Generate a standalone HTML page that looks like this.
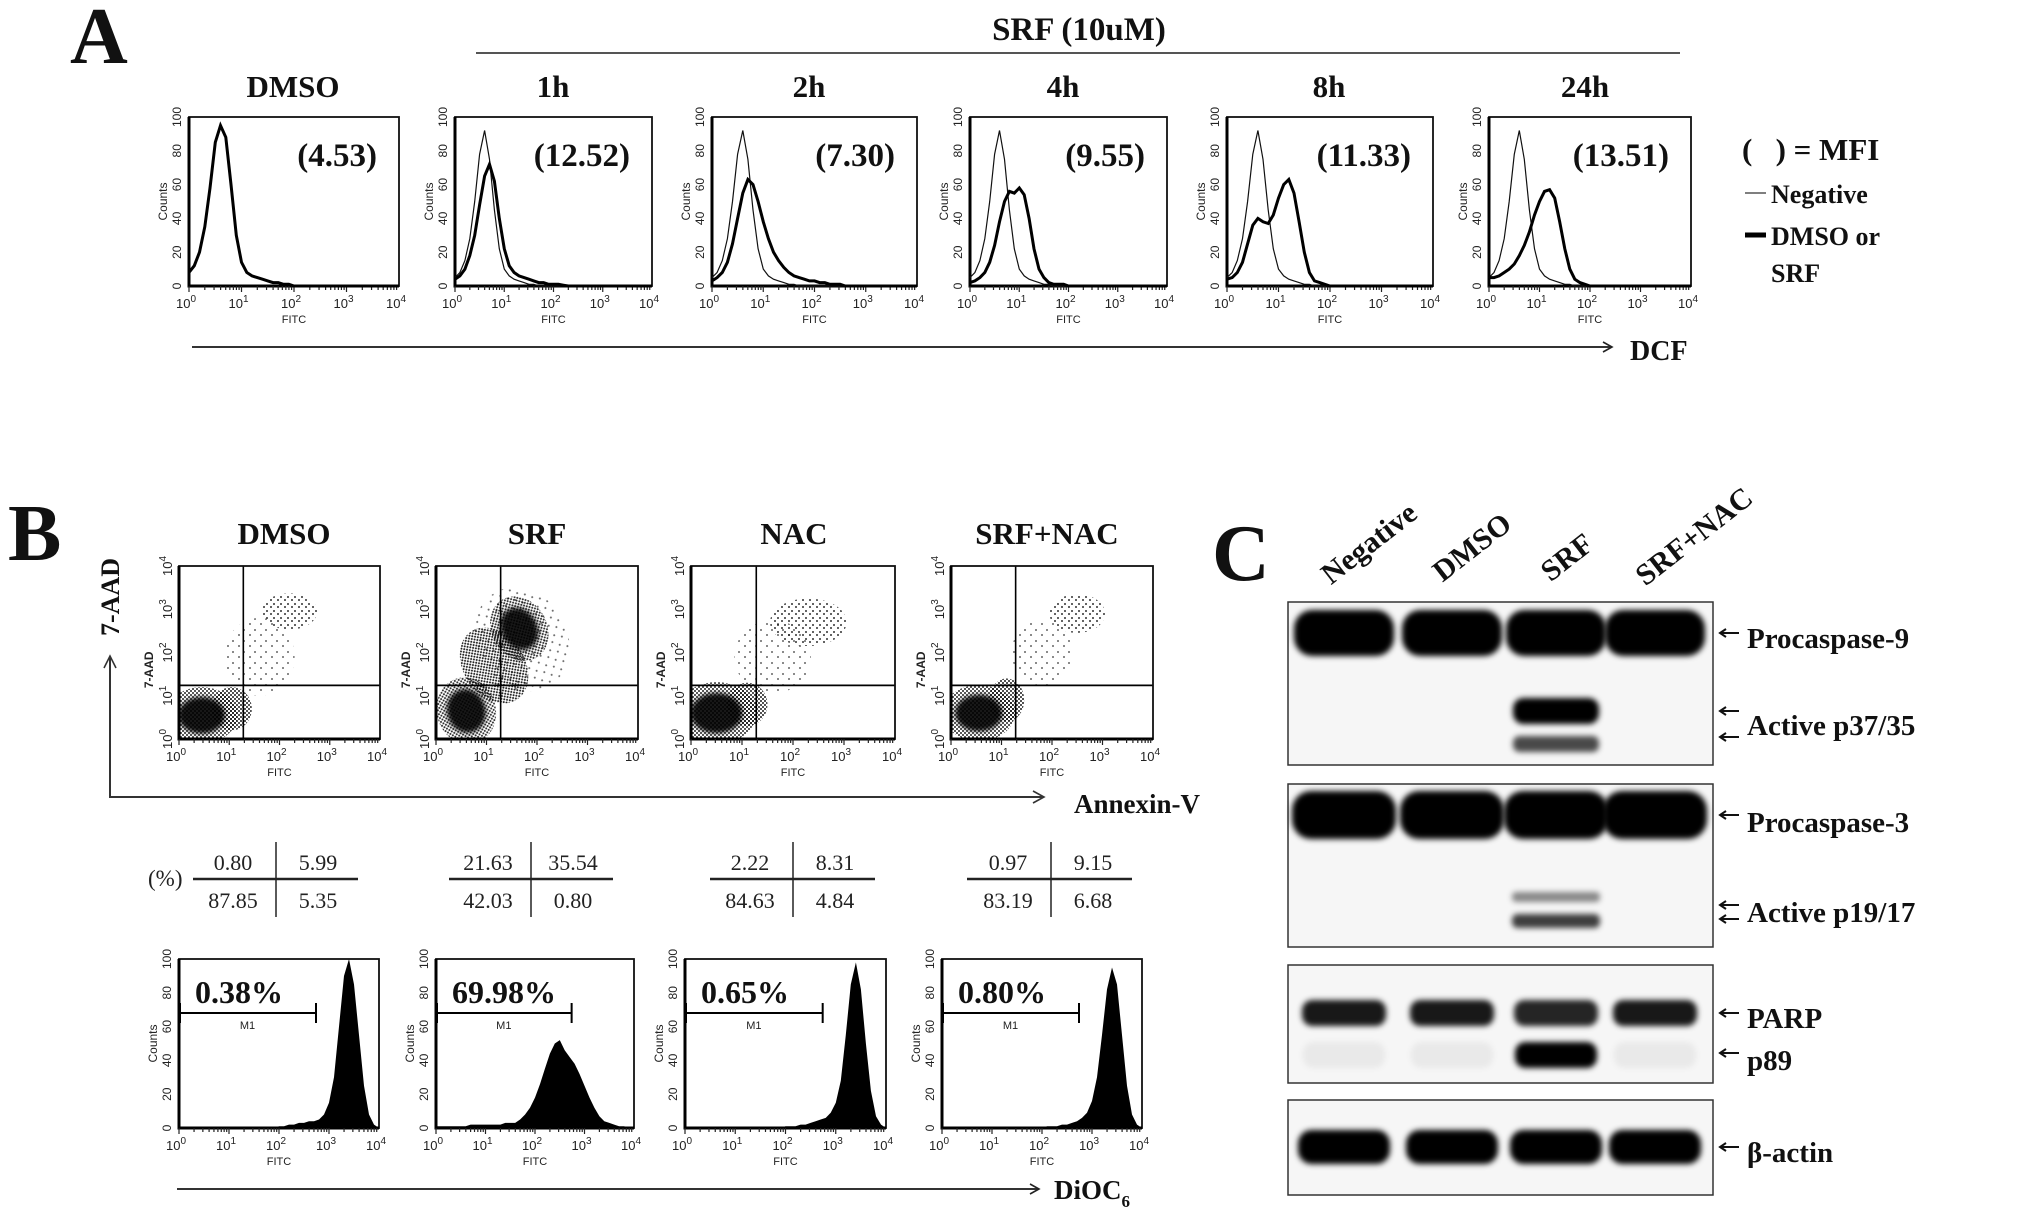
<!DOCTYPE html>
<html><head><meta charset="utf-8">
<style>
html,body{margin:0;padding:0;background:#fff;}
svg{display:block;}
.t{font-family:"Liberation Serif",serif;font-weight:bold;fill:#111;}
.s{font-family:"Liberation Sans",sans-serif;fill:#222;}
.n{font-family:"Liberation Serif",serif;fill:#222;}
</style></head>
<body>
<svg id="fig" width="2028" height="1214" viewBox="0 0 2028 1214" xmlns="http://www.w3.org/2000/svg">
<defs>
<filter id="blur" x="-20%" y="-80%" width="140%" height="260%"><feGaussianBlur stdDeviation="3"/></filter>
<filter id="sblur" x="-30%" y="-30%" width="160%" height="160%"><feGaussianBlur stdDeviation="2.5"/></filter>
<pattern id="p1" width="4" height="4" patternUnits="userSpaceOnUse"><circle cx="1" cy="1" r="1" fill="#000"/><circle cx="3" cy="3" r="1" fill="#000"/></pattern>
<pattern id="p2" width="7" height="7" patternUnits="userSpaceOnUse"><circle cx="1" cy="2" r="1" fill="#000"/><circle cx="5" cy="5" r="1" fill="#000"/></pattern>
<pattern id="p3" width="11" height="11" patternUnits="userSpaceOnUse"><circle cx="2" cy="3" r="1" fill="#000"/><circle cx="8" cy="8" r="1" fill="#000"/></pattern>
<marker id="arr" markerWidth="12" markerHeight="12" refX="10" refY="6" orient="auto" markerUnits="userSpaceOnUse"><path d="M1,1 L10,6 L1,11" fill="none" stroke="#222" stroke-width="1.6"/></marker>
</defs>

<text class="t" x="70" y="63" font-size="80">A</text>
<text class="t" x="1079" y="40" font-size="33" text-anchor="middle">SRF (10uM)</text>
<line x1="476" y1="53" x2="1680" y2="53" stroke="#555" stroke-width="2"/>
<line x1="192" y1="347" x2="1612" y2="347" stroke="#333" stroke-width="2" marker-end="url(#arr)"/>
<text class="t" x="1630" y="360" font-size="28">DCF</text>
<g>
<text class="t" x="1742" y="160" font-size="31">(&#160;&#160;&#160;) = MFI</text>
<line x1="1745" y1="193" x2="1766" y2="193" stroke="#333" stroke-width="1.2"/>
<text class="t" x="1771" y="203" font-size="26">Negative</text>
<line x1="1745" y1="235" x2="1766" y2="235" stroke="#000" stroke-width="5"/>
<text class="t" x="1771" y="245" font-size="26">DMSO or</text>
<text class="t" x="1771" y="282" font-size="26">SRF</text>
</g>

<text class="t" x="8" y="560" font-size="80">B</text>
<text class="t" x="0" y="0" font-size="26" transform="translate(119,597) rotate(-90)" text-anchor="middle">7-AAD</text>
<polyline points="110,658 110,797 1043,797" fill="none" stroke="#333" stroke-width="2"/>
<path d="M104,668 L110,656 L116,668" fill="none" stroke="#333" stroke-width="1.6"/>
<path d="M1033,791 L1044,797 L1033,803" fill="none" stroke="#333" stroke-width="1.6"/>
<text class="t" x="1074" y="813" font-size="27">Annexin-V</text>
<text class="n" x="148" y="886" font-size="23">(%)</text>
<line x1="177" y1="1189" x2="1039" y2="1189" stroke="#333" stroke-width="2" marker-end="url(#arr)"/>
<text class="t" x="1054" y="1199" font-size="27">DiOC<tspan font-size="17" dy="8">6</tspan></text>

<text class="t" x="1212" y="580" font-size="80">C</text>

<g id="gA"></g>
<g id="gB"></g>
<g id="gC"></g>
</svg>

<script>
// ---------- DATA ----------
const aTitles = ['DMSO','1h','2h','4h','8h','24h'];
const aMFI = ['(4.53)','(12.52)','(7.30)','(9.55)','(11.33)','(13.51)'];
const negCounts = [5,8,15,28,50,78,92,75,45,22,10,6,4,3,2,1,1,0];
const dmsoCounts = [8,12,20,35,58,85,95,88,60,30,14,8,6,5,4,3,2,2,1,1,0];
const h1Counts = [4,6,10,18,30,48,65,72,62,40,22,12,8,6,5,4,3,2,2,1,1,1,0.5,0];
const h2Counts = [3,5,8,14,25,40,55,63,60,50,38,28,20,15,11,8,6,5,4,3,3,2,2,1,1,1,0];
const h4Counts = [2,3,5,8,14,24,38,50,56,55,58,54,40,22,10,5,2,1,1,1,0];
const h8Counts = [4,5,8,14,25,36,40,38,37,42,52,60,63,55,38,20,8,3,2,1,0];
const h24Counts = [5,5,6,8,10,13,18,24,32,42,50,56,57,52,38,22,10,4,2,1,0];
const aSamples = [dmsoCounts,h1Counts,h2Counts,h4Counts,h8Counts,h24Counts];

const bTitles = ['DMSO','SRF','NAC','SRF+NAC'];
const quadUL = ['0.80','21.63','2.22','0.97'];
const quadUR = ['5.99','35.54','8.31','9.15'];
const quadLL = ['87.85','42.03','84.63','83.19'];
const quadLR = ['5.35','0.80','4.84','6.68'];
const gateX = [1.28,1.28,1.28,1.28];
const gateY = [1.24,1.24,1.24,1.24];
// [cx(log), cy(log), rx(decades), ry(decades), rotation deg, density 0..3]
const dmsoClusters = [[1.6,1.9,0.7,0.9,0,3],[2.2,2.95,0.55,0.42,0,2],[1.05,0.7,0.4,0.5,0,1],[0.45,0.55,0.55,0.5,0,0]];
const srfClusters = [[1.7,2.3,0.9,1.25,-30,3],[1.15,1.7,0.6,0.95,-35,1],[0.6,0.65,0.45,0.6,-15,0],[1.65,2.55,0.42,0.6,-30,0]];
const nacClusters = [[1.6,1.9,0.75,0.85,0,3],[2.3,2.7,0.75,0.55,0,2],[1.1,0.8,0.4,0.5,0,1],[0.5,0.6,0.6,0.55,0,0]];
const srfnacClusters = [[1.8,2.0,0.6,0.75,0,3],[2.5,2.9,0.55,0.45,0,2],[1.1,0.9,0.35,0.5,0,1],[0.55,0.6,0.55,0.5,0,0]];
const bClusters = [dmsoClusters,srfClusters,nacClusters,srfnacClusters];

const bM1 = ['0.38%','69.98%','0.65%','0.80%'];
const m1End = [2.74,2.74,2.74,2.74];
const dioDmso = [0,0,0,0,0,0,0,0,0,0,0,0,0,0,0,0,0,0,0,0,1,1,2,2,3,3,4,4,5,8,15,30,60,90,100,85,55,25,8,2,0];
const dioSrf = [1,1,1,1,1,1,1,2,2,2,2,2,2,2,3,3,3,5,8,12,18,26,35,44,50,52,46,42,38,32,25,18,12,7,4,3,2,1,1,0,0];
const dioNac = [0,0,0,0,0,0,0,0,0,0,0,0,0,0,0,0,0,0,0,0,1,1,1,2,2,3,4,5,6,9,15,28,55,85,98,82,50,22,7,2,0];
const dioSrfNac = [0,0,0,0,0,0,0,0,0,0,0,0,0,0,0,0,0,0,0,0,0,1,1,1,2,2,3,4,6,9,16,30,55,82,95,85,55,25,8,2,0];
const bHist = [dioDmso,dioSrf,dioNac,dioSrfNac];

const lanes = ['Negative','DMSO','SRF','SRF+NAC'];
const procasp9 = [1,1,1,1];
const act37 = [0,0,1,0];
const act35 = [0,0,0.7,0];
const procasp3 = [1,1,1,1];
const act19 = [0,0,0.45,0];
const act17 = [0,0,0.75,0];
const parp = [0.9,0.9,0.85,0.9];
const p89 = [0.05,0.05,1,0.05];
const actin = [1,1,1,1];

// ---------- DRAWING ----------
const NS='http://www.w3.org/2000/svg';
function mk(tag,parent,attrs){const e=document.createElementNS(NS,tag);for(const k in attrs)e.setAttribute(k,attrs[k]);parent.appendChild(e);return e;}
function logTicks(g,box,nameBase){
  for(let d=0;d<4;d++){for(let m=1;m<10;m++){const x=box.x+(d+Math.log10(m))/4*box.w;
    const tk=mk('line',g,{x1:x,y1:box.y+box.h,x2:x,y2:box.y+box.h+(m===1?6:4),stroke:'#222','stroke-width':1.2});
    
    }}
  for(let d=0;d<=4;d++){const x=box.x+d/4*box.w;
    const t=mk('text',g,{x:x-3,y:box.y+box.h+22,'font-size':13,'text-anchor':'middle',class:'s'});
    t.innerHTML='10<tspan font-size="10" dy="-6">'+d+'</tspan>';
    
    }
  const f=mk('text',g,{x:box.x+box.w/2,y:box.y+box.h+37,'font-size':11,'text-anchor':'middle',class:'s'});
  f.textContent='FITC';
  
  
}
function countTicks(g,box,nameBase){
  for(let v=0;v<=100;v+=20){const y=box.y+box.h-v/100*box.h;
    const t=mk('text',g,{x:0,y:0,'font-size':12,'text-anchor':'middle',class:'s',transform:'translate('+(box.x-8)+','+y+') rotate(-90)'});
    t.textContent=v;
    
    }
  const c=mk('text',g,{x:0,y:0,'font-size':12,'text-anchor':'middle',class:'s',transform:'translate('+(box.x-22)+','+(box.y+box.h/2)+') rotate(-90)'});
  c.textContent='Counts';
  
  
}
function frame(g,box,nameBase){
  const r=mk('rect',g,{x:box.x,y:box.y,width:box.w,height:box.h,fill:'none',stroke:'#111','stroke-width':1.8});
  
  
  const b=mk('polyline',g,{points:box.x+','+box.y+' '+box.x+','+(box.y+box.h)+' '+(box.x+box.w)+','+(box.y+box.h),fill:'none',stroke:'#000','stroke-width':3});
  
  
}
function histPts(box,arr){const pts=[];for(let i=0;i<=40;i++){const v=i<arr.length?arr[i]:0;pts.push((box.x+i*0.1/4*box.w).toFixed(1)+','+(box.y+box.h-v/100*box.h).toFixed(1));}return pts;}

const gA=document.getElementById('gA');
const aLeft=[189,455,712,970,1227,1489], aRight=[399,652,917,1167,1433,1691];
const aTitleX=[293,553,809,1063,1329,1585];
aTitles.forEach((name,i)=>{
  const box={x:aLeft[i],y:117,w:aRight[i]-aLeft[i],h:169};
  const g=mk('g',gA,{});
  
  
  const tt=mk('text',g,{x:aTitleX[i],y:97,'font-size':31,'text-anchor':'middle',class:'t'});
  tt.textContent=name;
  
  
  frame(g,box,'dcf-'+name);countTicks(g,box,'dcf-'+name);logTicks(g,box,'dcf-'+name);
  if(i>0){const n=mk('polyline',g,{points:histPts(box,negCounts).join(' '),fill:'none',stroke:'#111','stroke-width':1.2});
    
    }
  const s=mk('polyline',g,{points:histPts(box,aSamples[i]).join(' '),fill:'none',stroke:'#000','stroke-width':3});
  
  
  const m=mk('text',g,{x:box.x+box.w-22,y:166,'font-size':33,'text-anchor':'end',class:'t'});
  m.textContent=aMFI[i];
  
  
});

const gB=document.getElementById('gB');
const sLeft=[179,436,691,951], sRight=[380,638,895,1153];
const hLeft=[179,436,685,942], hRight=[379,634,886,1142];
const bTitleX=[284,537,794,1047];
const tLine1=[193,449,710,967], tLine2=[358,613,875,1132], tV=[276,531,793,1051];
const pats=['#000','url(#p1)','url(#p2)','url(#p3)'];
const opac=[0.9,0.9,0.8,0.6];
bTitles.forEach((name,i)=>{
  const g=mk('g',gB,{});
  
  
  const tt=mk('text',g,{x:bTitleX[i],y:544,'font-size':31,'text-anchor':'middle',class:'t'});
  tt.textContent=name;
  
  
  const box={x:sLeft[i],y:566,w:sRight[i]-sLeft[i],h:173};
  const sx=v=>box.x+v/4*box.w, sy=v=>box.y+box.h-v/4*box.h;
  const clip=mk('clipPath',g,{id:'clip'+i});
  mk('rect',clip,{x:box.x,y:box.y,width:box.w,height:box.h});
  const cg=mk('g',g,{'clip-path':'url(#clip'+i+')'});
  
  
  bClusters[i].forEach(c=>{
    const cx=sx(c[0]),cy=sy(c[1]);
    const rx=c[2]/4*box.w, ry=c[3]/4*box.h;
    const rot='rotate('+c[4]+','+cx+','+cy+')';
    if(c[5]===0){
      const halo=mk('ellipse',cg,{cx:cx,cy:cy,rx:rx*1.3,ry:ry*1.3,fill:'url(#p1)',opacity:0.85,transform:rot});
      
      
      const core=mk('ellipse',cg,{cx:cx,cy:cy,rx:rx*0.85,ry:ry*0.85,fill:'#000',opacity:0.9,filter:'url(#sblur)',transform:rot});
      
      
    } else {
      const e=mk('ellipse',cg,{cx:cx,cy:cy,rx:rx,ry:ry,fill:pats[c[5]],opacity:opac[c[5]],transform:rot});
      
      
    }
  });
  const vl=mk('line',g,{x1:sx(gateX[i]),y1:box.y,x2:sx(gateX[i]),y2:box.y+box.h,stroke:'#000','stroke-width':1.6});
  
  
  const hl=mk('line',g,{x1:box.x,y1:sy(gateY[i]),x2:box.x+box.w,y2:sy(gateY[i]),stroke:'#000','stroke-width':1.8});
  
  
  frame(g,box,'scatter-'+name);logTicks(g,box,'scatter-'+name);
  for(let d=0;d<=4;d++){const t=mk('text',g,{x:0,y:0,'font-size':13,'text-anchor':'middle',class:'s',transform:'translate('+(box.x-7)+','+sy(d)+') rotate(-90)'});
    t.innerHTML='10<tspan font-size="10" dy="-6">'+d+'</tspan>';
    
    }
  const yl=mk('text',g,{x:0,y:0,'font-size':12,'text-anchor':'middle',class:'s','font-weight':'bold',transform:'translate('+(box.x-26)+','+(box.y+box.h*0.6)+') rotate(-90)'});
  yl.textContent='7-AAD';
  
  
  const tg=mk('g',g,{});
  
  
  const l1=mk('line',tg,{x1:tLine1[i],y1:879,x2:tLine2[i],y2:879,stroke:'#222','stroke-width':2.5});
  
  
  const l2=mk('line',tg,{x1:tV[i],y1:842,x2:tV[i],y2:917,stroke:'#222','stroke-width':1.5});
  
  
  [[quadUL[i],tV[i]-43,870],[quadUR[i],tV[i]+42,870],[quadLL[i],tV[i]-43,908],[quadLR[i],tV[i]+42,908]].forEach(q=>{
    const t=mk('text',tg,{x:q[1],y:q[2],'font-size':22,'text-anchor':'middle',class:'n'});
    t.textContent=q[0];
    
    
  });
  const hb={x:hLeft[i],y:959,w:hRight[i]-hLeft[i],h:169};
  const pts=histPts(hb,bHist[i]);
  const poly=mk('polygon',g,{points:hb.x+','+(hb.y+hb.h)+' '+pts.join(' ')+' '+(hb.x+hb.w)+','+(hb.y+hb.h),fill:'#000'});
  
  
  frame(g,hb,'dioc6-'+name);countTicks(g,hb,'dioc6-'+name);logTicks(g,hb,'dioc6-'+name);
  const mx2=hb.x+m1End[i]/4*hb.w, my=1013;
  const mb=mk('path',g,{d:'M'+(hb.x+1)+','+(my-10)+' V'+(my+10)+' M'+(hb.x+1)+','+my+' H'+mx2+' M'+mx2+','+(my-10)+' V'+(my+10),stroke:'#000','stroke-width':2,fill:'none'});
  
  
  const mt=mk('text',g,{x:(hb.x+mx2)/2,y:1029,'font-size':11,'text-anchor':'middle',class:'s'});
  mt.textContent='M1';
  
  
  const pv=mk('text',g,{x:hb.x+16,y:1003,'font-size':32,class:'t'});
  pv.textContent=bM1[i];
  
  
});

const gC=document.getElementById('gC');
const laneX=[1344,1452,1556,1655];
const laneLblX=[1375,1478,1573,1700], laneLblY=[551,555,565,544];
lanes.forEach((n,i)=>{
  const t=mk('text',gC,{x:0,y:0,'font-size':30,'text-anchor':'middle',class:'t',transform:'translate('+laneLblX[i]+','+laneLblY[i]+') rotate(-38)'});
  t.textContent=n;
  
  
});
const gels=[[602,765],[784,947],[965,1083],[1100,1195]];
gels.forEach((b,k)=>{
  const r=mk('rect',gC,{x:1288,y:b[0],width:425,height:b[1]-b[0],fill:'#f6f6f6',stroke:'#333','stroke-width':1.5});
  
  
});
const bandRows=[[procasp9,633,46,100],[act37,711,26,86],[act35,744,16,86],[procasp3,815,48,104],[act19,897,10,88],[act17,921,14,88],[parp,1013,26,84],[p89,1055,26,82],[actin,1147,34,92]];
const rowNames=['procaspase-9','active-p37','active-p35','procaspase-3','active-p19','active-p17','parp','p89','beta-actin'];
bandRows.forEach((row,k)=>{
  row[0].forEach((v,i)=>{
    if(v<=0)return;
    const w=row[3],h=row[2];
    const e=mk('rect',gC,{x:laneX[i]-w/2,y:row[1]-h/2,width:w,height:h,rx:h/2.5,fill:'#000','fill-opacity':v,filter:'url(#blur)'});
    
    
  });
});
const labels=[['Procaspase-9',638,[633]],['Active p37/35',725,[711,737]],['Procaspase-3',822,[815]],['Active p19/17',912,[905,919]],['PARP',1018,[1013]],['p89',1060,[1053]],['β-actin',1152,[1147]]];
labels.forEach(l=>{
  const t=mk('text',gC,{x:1747,y:l[1]+10,'font-size':29,class:'t'});
  t.textContent=l[0];
  
  
  l[2].forEach(y=>{
    const a=mk('path',gC,{d:'M1739,'+y+' H1720 M1726,'+(y-4)+' L1720,'+y+' L1726,'+(y+4),stroke:'#111','stroke-width':2,fill:'none'});
    
    
  });
});
</script>
</body></html>
